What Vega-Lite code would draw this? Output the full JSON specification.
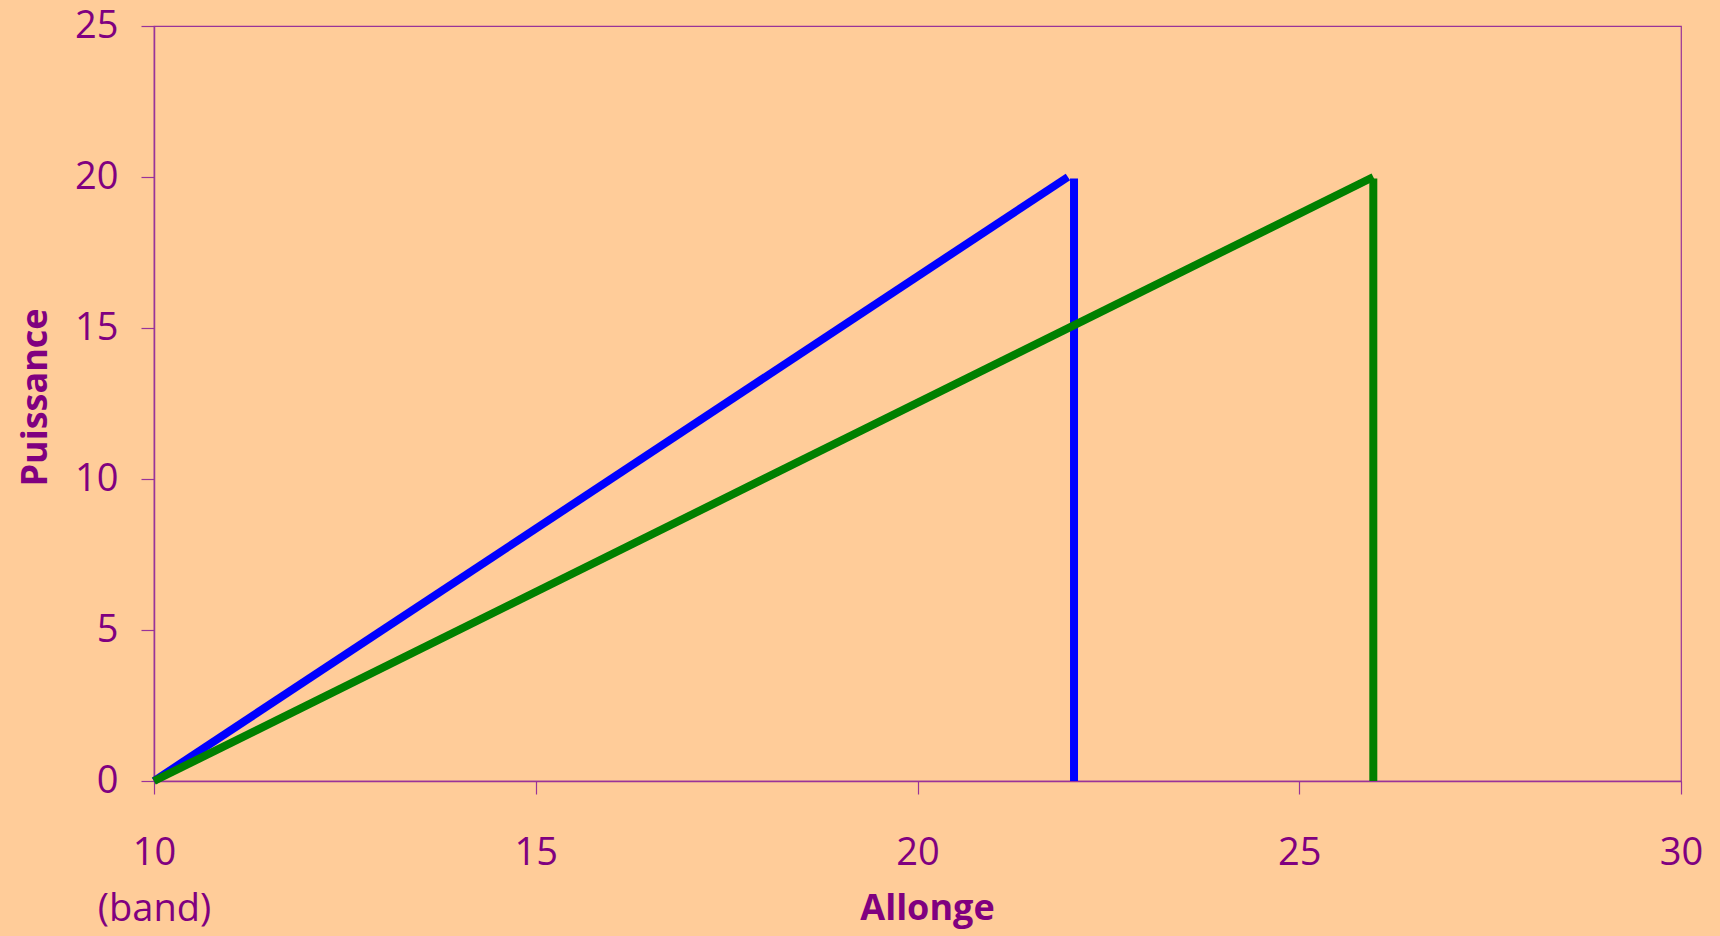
{
  "$schema": "https://vega.github.io/schema/vega-lite/v6.json",
  "width": 1527,
  "height": 755,
  "autosize": {"type": "none"},
  "padding": {"left": 154, "top": 26, "right": 39, "bottom": 155},
  "background": "#FFCC99",
  "data": {
    "values": [
      {"serie": "A", "seg": "A1", "allonge": 10, "puissance": 0},
      {"serie": "A", "seg": "A1", "allonge": 21.97, "puissance": 20},
      {"serie": "A", "seg": "A2", "allonge": 22.05, "puissance": 19.95},
      {"serie": "A", "seg": "A2", "allonge": 22.05, "puissance": 0},
      {"serie": "B", "seg": "B1", "allonge": 10, "puissance": 0},
      {"serie": "B", "seg": "B1", "allonge": 25.97, "puissance": 20},
      {"serie": "B", "seg": "B2", "allonge": 25.97, "puissance": 19.95},
      {"serie": "B", "seg": "B2", "allonge": 25.97, "puissance": 0}
    ]
  },
  "mark": {"type": "line", "strokeWidth": 8, "strokeCap": "butt", "clip": false},
  "encoding": {
    "x": {
      "field": "allonge",
      "type": "quantitative",
      "title": "Allonge",
      "scale": {"domain": [10, 30], "nice": false, "zero": false},
      "axis": {
        "values": [10, 15, 20, 25, 30],
        "labelExpr": "datum.value == 10 ? ['10', '(band)'] : datum.label",
        "labelPadding": 40,
        "labelLineHeight": 56,
        "labelBaseline": "top",
        "titleY": 110,
        "titleX": 773,
        "titleBaseline": "top"
      }
    },
    "y": {
      "field": "puissance",
      "type": "quantitative",
      "title": "Puissance",
      "scale": {"domain": [0, 25], "nice": false},
      "axis": {
        "values": [0, 5, 10, 15, 20, 25],
        "labelPadding": 23,
        "titleX": -119,
        "titleY": 371,
        "titleAngle": 270,
        "titleBaseline": "middle"
      }
    },
    "detail": {"field": "seg"},
    "color": {
      "field": "serie",
      "type": "nominal",
      "legend": null,
      "scale": {"domain": ["A", "B"], "range": ["#0000FF", "#008000"]}
    }
  },
  "config": {
    "view": {"stroke": "#993399", "strokeWidth": 1.2},
    "axis": {
      "grid": false,
      "domainColor": "#993399",
      "domainWidth": 1.5,
      "tickColor": "#993399",
      "tickWidth": 1.2,
      "tickSize": 13,
      "labelFont": "Open Sans",
      "labelFontSize": 38,
      "labelColor": "#800080",
      "labelOverlap": false,
      "labelFlush": false,
      "labelBound": false,
      "titleFont": "Open Sans",
      "titleFontSize": 36,
      "titleFontWeight": "bold",
      "titleColor": "#800080"
    }
  }
}
